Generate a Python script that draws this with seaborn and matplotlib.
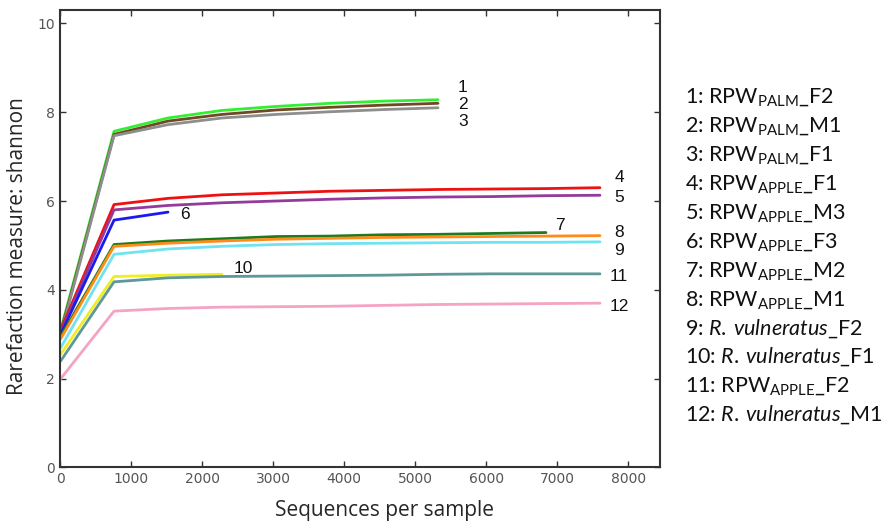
import numpy as np
import pandas as pd
import seaborn as sns
import matplotlib.pyplot as plt

# depths of the rarefaction (sequences per sample)
depths = [10, 760, 1520, 2280, 3040, 3800, 4560, 5320, 6080, 6840, 7600]

# shannon values per sample
s1 = [3.10, 7.57, 7.87, 8.04, 8.13, 8.20, 8.25, 8.28]
s2 = [3.05, 7.50, 7.80, 7.95, 8.05, 8.11, 8.16, 8.20]
s3 = [3.00, 7.47, 7.72, 7.87, 7.95, 8.01, 8.06, 8.10]
s4 = [3.10, 5.92, 6.06, 6.14, 6.18, 6.22, 6.24, 6.26, 6.27, 6.28, 6.30]
s5 = [3.05, 5.80, 5.90, 5.96, 6.00, 6.04, 6.07, 6.09, 6.10, 6.12, 6.13]
s6 = [3.00, 5.57, 5.75]
s7 = [2.95, 5.02, 5.10, 5.15, 5.20, 5.21, 5.24, 5.25, 5.27, 5.29]
s8 = [2.90, 4.98, 5.05, 5.10, 5.14, 5.16, 5.18, 5.19, 5.20, 5.21, 5.22]
s9 = [2.70, 4.80, 4.92, 4.98, 5.02, 5.04, 5.05, 5.06, 5.07, 5.07, 5.08]
s10 = [2.55, 4.30, 4.33, 4.35]
s11 = [2.40, 4.18, 4.27, 4.30, 4.31, 4.32, 4.33, 4.35, 4.36, 4.36, 4.36]
s12 = [2.00, 3.52, 3.58, 3.61, 3.62, 3.63, 3.65, 3.67, 3.68, 3.69, 3.70]
series = [s1, s2, s3, s4, s5, s6, s7, s8, s9, s10, s11, s12]

colors = ["#33ee33", "#6e4a24", "#8e8e8e", "#ee1111", "#943a9a", "#1a1aee",
          "#1f7a1f", "#ff8a1a", "#6fe3ef", "#eeee22", "#5e9898", "#f4a3c4"]

# number labels next to the curve ends (x, y)
label_x = [5600, 5600, 5600, 7800, 7800, 1690, 6970, 7800, 7800, 2440, 7740, 7740]
label_y = [8.56, 8.18, 7.80, 6.54, 6.09, 5.69, 5.44, 5.28, 4.88, 4.49, 4.29, 3.62]

legend_items = [
    r"1: RPW$_{\mathrm{PALM}}$_F2",
    r"2: RPW$_{\mathrm{PALM}}$_M1",
    r"3: RPW$_{\mathrm{PALM}}$_F1",
    r"4: RPW$_{\mathrm{APPLE}}$_F1",
    r"5: RPW$_{\mathrm{APPLE}}$_M3",
    r"6: RPW$_{\mathrm{APPLE}}$_F3",
    r"7: RPW$_{\mathrm{APPLE}}$_M2",
    r"8: RPW$_{\mathrm{APPLE}}$_M1",
    r"9: $\mathit{R.\:vulneratus}$_F2",
    r"10: $\mathit{R.\:vulneratus}$_F1",
    r"11: RPW$_{\mathrm{APPLE}}$_F2",
    r"12: $\mathit{R.\:vulneratus}$_M1",
]

rows = []
for i, vals in enumerate(series):
    for d, v in zip(depths, vals):
        rows.append({"sample": str(i + 1), "depth": d, "shannon": v})
df = pd.DataFrame(rows)

sns.set_style("ticks")
plt.rcParams["font.family"] = ["DejaVu Sans"]
plt.rcParams["mathtext.fontset"] = "custom"
plt.rcParams["mathtext.rm"] = "Lato"
plt.rcParams["mathtext.it"] = "Lato:italic"
plt.rcParams["xtick.direction"] = "in"
plt.rcParams["ytick.direction"] = "in"

fig = plt.figure(figsize=(8.96, 5.3), dpi=100)
ax = fig.add_axes([0.067, 0.118, 0.670, 0.863])

palette = {str(i + 1): c for i, c in enumerate(colors)}
sns.lineplot(data=df, x="depth", y="shannon", hue="sample", palette=palette,
             linewidth=2, legend=False, ax=ax)

for i in range(len(series)):
    ax.text(label_x[i], label_y[i], str(i + 1), fontsize=12.5,
            family="Liberation Sans", va="center", ha="left", color="#111111")

ax.set_xlim(0, 8450)
ax.set_ylim(0, 10.3)
ax.set_xticks(range(0, 8001, 1000))
ax.set_yticks(range(0, 11, 2))
ax.tick_params(top=True, right=True, labelsize=10, labelcolor="#555555",
               length=4, width=1, color="#333333")
for sp in ax.spines.values():
    sp.set_color("#333333")
    sp.set_linewidth(1.5)

ax.set_xlabel("Sequences per sample", family="Open Sans", fontsize=15)
ax.xaxis.set_label_coords(0.54, -0.072)
ax.set_ylabel("Rarefaction measure: shannon", family="Open Sans", fontsize=15)
ax.yaxis.set_label_coords(-0.053, 0.484)

for i, t in enumerate(legend_items):
    fig.text(0.764, 1 - (103 + i * 28.9) / 530, t, family="Lato",
             fontsize=15.5, va="baseline", ha="left", color="#111111")

plt.savefig("out.png", dpi=100)
